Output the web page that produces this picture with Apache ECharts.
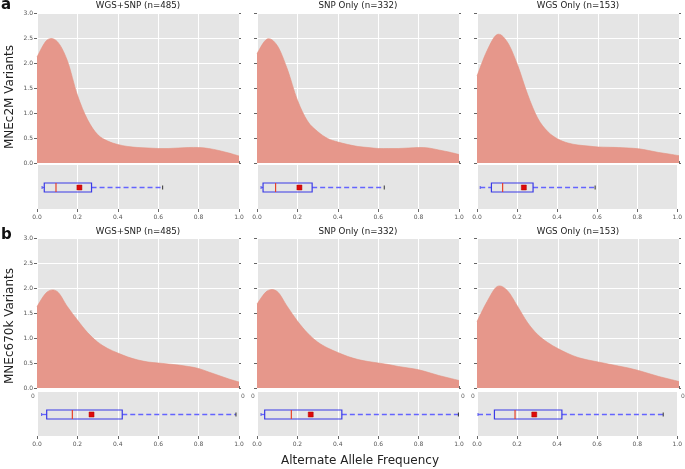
<!DOCTYPE html>
<html><head><meta charset="utf-8">
<script src="https://cdn.jsdelivr.net/npm/echarts@6/dist/echarts.min.js"></script>
<style>html,body{margin:0;padding:0;background:#fff}#c{width:685px;height:469px}</style>
</head><body><div id="c"></div>
<script>
// ---- data ----
const xPositions = [0, 0.05, 0.1, 0.15, 0.2, 0.25, 0.3, 0.35, 0.4, 0.45, 0.5, 0.55, 0.6, 0.65, 0.7, 0.75, 0.8, 0.85, 0.9, 0.95, 1.0];
const densA_WGSSNP = [2.12, 2.46, 2.43, 2.05, 1.36, 0.87, 0.57, 0.44, 0.37, 0.33, 0.31, 0.30, 0.29, 0.29, 0.30, 0.31, 0.31, 0.29, 0.25, 0.20, 0.14];
const densA_SNP    = [2.19, 2.48, 2.35, 1.88, 1.26, 0.84, 0.63, 0.49, 0.42, 0.37, 0.33, 0.31, 0.29, 0.29, 0.29, 0.30, 0.31, 0.30, 0.26, 0.22, 0.17];
const densA_WGS    = [1.74, 2.25, 2.57, 2.42, 1.97, 1.38, 0.90, 0.63, 0.48, 0.40, 0.36, 0.34, 0.32, 0.315, 0.31, 0.30, 0.285, 0.25, 0.21, 0.18, 0.146];
const densB_WGSSNP = [1.63, 1.92, 1.93, 1.63, 1.36, 1.11, 0.92, 0.79, 0.70, 0.62, 0.56, 0.52, 0.50, 0.48, 0.46, 0.43, 0.39, 0.32, 0.25, 0.18, 0.12];
const densB_SNP    = [1.68, 1.94, 1.93, 1.63, 1.34, 1.10, 0.92, 0.80, 0.71, 0.63, 0.57, 0.53, 0.50, 0.47, 0.43, 0.40, 0.365, 0.31, 0.25, 0.20, 0.15];
const densB_WGS    = [1.33, 1.73, 2.03, 1.95, 1.64, 1.31, 1.07, 0.91, 0.79, 0.69, 0.61, 0.56, 0.52, 0.48, 0.44, 0.40, 0.35, 0.29, 0.23, 0.18, 0.13];
// box stats: [min, q1, median, q3, max, mean]
const boxA_WGSSNP = [0.025, 0.036, 0.094, 0.270, 0.622, 0.21];
const boxA_SNP    = [0.020, 0.030, 0.092, 0.273, 0.630, 0.21];
const boxA_WGS    = [0.016, 0.072, 0.128, 0.280, 0.590, 0.234];
const boxB_WGSSNP = [0.023, 0.048, 0.175, 0.422, 0.985, 0.27];
const boxB_SNP    = [0.020, 0.038, 0.170, 0.420, 0.997, 0.266];
const boxB_WGS    = [0.005, 0.087, 0.190, 0.424, 0.930, 0.286];
const panelTitles = ['WGS+SNP (n=485)', 'SNP Only (n=332)', 'WGS Only (n=153)'];
const rowLetters = ['a', 'b'];
const rowNames = ['MNEc2M Variants', 'MNEc670k Variants'];
const xTickLabels = ['0.0', '0.2', '0.4', '0.6', '0.8', '1.0'];
const yTickLabels = ['0.0', '0.5', '1.0', '1.5', '2.0', '2.5', '3.0'];
const xAxisTitle = 'Alternate Allele Frequency';

const densities = [[densA_WGSSNP, densA_SNP, densA_WGS], [densB_WGSSNP, densB_SNP, densB_WGS]];
const boxes = [[boxA_WGSSNP, boxA_SNP, boxA_WGS], [boxB_WGSSNP, boxB_SNP, boxB_WGS]];

// ---- layout ----
const FONT = 'DejaVu Sans';
const colLeft = [37, 257, 477];
const colW = 202;
const densTop = [13, 238], densH = 150;
const boxTop = [165, 392], boxH = 44;
const GRIDBG = '#e5e5e5';
const TICKC = '#666';

const grids = [], xAxes = [], yAxes = [], series = [], graphics = [];

// smooth KDE-like area drawn through the axis scales (Catmull-Rom -> Bezier in pixel space)
function makeDensityRender(ys) {
  return function (params, api) {
    if (params.dataIndex !== 0) return null;
    const pts = xPositions.map((x, i) => api.coord([x, ys[i]]));
    const base = api.coord([0, 0])[1];
    const N = pts.length;
    let d = 'M' + pts[0][0] + ',' + base + ' L' + pts[0][0] + ',' + pts[0][1];
    let line = 'M' + pts[0][0] + ',' + pts[0][1];
    for (let i = 0; i < N - 1; i++) {
      const p0 = pts[Math.max(i - 1, 0)], p1 = pts[i], p2 = pts[i + 1], p3 = pts[Math.min(i + 2, N - 1)];
      const c1x = p1[0] + (p2[0] - p0[0]) / 6, c1y = p1[1] + (p2[1] - p0[1]) / 6;
      const c2x = p2[0] - (p3[0] - p1[0]) / 6, c2y = p2[1] - (p3[1] - p1[1]) / 6;
      const seg = ' C' + c1x + ',' + c1y + ' ' + c2x + ',' + c2y + ' ' + p2[0] + ',' + p2[1];
      d += seg; line += seg;
    }
    d += ' L' + pts[N - 1][0] + ',' + base + ' Z';
    return {
      type: 'group',
      children: [
        { type: 'path', shape: { pathData: d }, style: { fill: '#e6978b', stroke: null } },
        { type: 'path', shape: { pathData: line }, style: { fill: null, stroke: '#e3907f', lineWidth: 0.6 } }
      ]
    };
  };
}

function renderBox(params, api) {
  const y = Math.round(api.coord([0, 0.5])[1]) + 0.5;
  const px = i => api.coord([api.value(i), 0.5])[0];
  const xMin = px(0), xQ1 = px(1), xMed = px(2), xQ3 = px(3), xMax = px(4), xMean = px(5);
  const h = 4.5;
  const dash = { stroke: '#6464ff', lineWidth: 1.3, lineDash: [5, 3] };
  return {
    type: 'group',
    children: [
      { type: 'line', shape: { x1: xMin, y1: y, x2: xQ1, y2: y }, style: dash },
      { type: 'line', shape: { x1: xQ3, y1: y, x2: xMax, y2: y }, style: dash },
      { type: 'rect', shape: { x: xQ1, y: y - h, width: xQ3 - xQ1, height: 2 * h }, style: { fill: 'transparent', stroke: '#3a3ae6', lineWidth: 1.2 } },
      { type: 'line', shape: { x1: xMed, y1: y - h, x2: xMed, y2: y + h }, style: { stroke: '#e8402a', lineWidth: 1.2 } },
      { type: 'rect', shape: { x: xMean - 2.5, y: y - 2.5, width: 5, height: 5 }, style: { fill: '#dd0a0a', stroke: '#b00000', lineWidth: 0.5 } },
      { type: 'line', shape: { x1: xMin, y1: y - 1.5, x2: xMin, y2: y + 1.5 }, style: { stroke: '#5858e8', lineWidth: 1 } },
      { type: 'line', shape: { x1: xMax, y1: y - 2, x2: xMax, y2: y + 2 }, style: { stroke: '#333', lineWidth: 1 } }
    ]
  };
}

for (let r = 0; r < 2; r++) {
  for (let c = 0; c < 3; c++) {
    // density grid
    const gD = grids.length;
    grids.push({ left: colLeft[c], top: densTop[r], width: colW, height: densH, show: true, backgroundColor: GRIDBG, borderWidth: 0 });
    const xD = xAxes.length;
    xAxes.push({
      gridIndex: gD, type: 'value', min: 0, max: 1, interval: 0.2, position: 'top',
      axisLine: { show: false }, axisTick: { show: true, length: 2, lineStyle: { color: TICKC } },
      axisLabel: { show: false }, splitLine: { show: true, lineStyle: { color: '#fff', width: 1 } }
    });
    const yD = yAxes.length;
    yAxes.push({
      gridIndex: gD, type: 'value', min: 0, max: 3, interval: 0.5, position: 'left',
      axisLine: { show: false }, axisTick: { show: true, length: 3, lineStyle: { color: TICKC } },
      axisLabel: { show: c === 0, fontSize: 6, color: '#555', fontFamily: FONT, margin: 4,
        formatter: v => yTickLabels[Math.round(v / 0.5)] },
      splitLine: { show: true, lineStyle: { color: '#fff', width: 1 } }
    });
    yAxes.push({
      gridIndex: gD, type: 'value', min: 0, max: 3, interval: 0.5, position: 'right',
      axisLine: { show: false }, axisTick: { show: true, length: 2, lineStyle: { color: TICKC } },
      axisLabel: { show: false }, splitLine: { show: false }
    });
    const ys = densities[r][c];
    series.push({
      type: 'custom', xAxisIndex: xD, yAxisIndex: yD,
      renderItem: makeDensityRender(ys),
      encode: { x: 0, y: 1 },
      data: xPositions.map((x, i) => [x, ys[i]]),
      silent: true, animation: false, z: 2
    });

    // box grid
    const gB = grids.length;
    grids.push({ left: colLeft[c], top: boxTop[r], width: colW, height: boxH, show: true, backgroundColor: GRIDBG, borderWidth: 0 });
    const xB = xAxes.length;
    xAxes.push({
      gridIndex: gB, type: 'value', min: 0, max: 1, interval: 0.2, position: 'bottom',
      axisLine: { show: false }, axisTick: { show: true, length: 3, lineStyle: { color: TICKC } },
      axisLabel: { show: true, fontSize: 6, color: '#555', fontFamily: FONT, margin: 5,
        formatter: v => xTickLabels[Math.round(v / 0.2)] },
      splitLine: { show: true, lineStyle: { color: '#fff', width: 1 } }
    });
    const yB = yAxes.length;
    yAxes.push({ gridIndex: gB, type: 'value', min: 0, max: 1, show: false });
    const b = boxes[r][c];
    series.push({
      type: 'custom', xAxisIndex: xB, yAxisIndex: yB, renderItem: renderBox,
      dimensions: ['min', 'q1', 'med', 'q3', 'max', 'mean', 'y'],
      encode: { x: [0, 1, 2, 3, 4, 5], y: 6 },
      data: [[b[0], b[1], b[2], b[3], b[4], b[5], 0.5]],
      silent: true, animation: false, z: 3
    });

    // panel title
    graphics.push({ type: 'text', x: colLeft[c] + colW / 2, y: r === 0 ? 6 : 231.5,
      style: { text: panelTitles[c], font: '8.7px "' + FONT + '"', fill: '#222', textAlign: 'center', textVerticalAlign: 'middle' } });

    // clipped tick remnants in row b
    if (r === 1) {
      graphics.push({ type: 'text', x: colLeft[c] - 4, y: 396,
        style: { text: '0', font: '6px "' + FONT + '"', fill: '#666', textAlign: 'center', textVerticalAlign: 'middle' } });
      graphics.push({ type: 'text', x: colLeft[c] + colW + 4, y: 396,
        style: { text: '0', font: '6px "' + FONT + '"', fill: '#666', textAlign: 'center', textVerticalAlign: 'middle' } });
    }
  }
  // row letter
  graphics.push({ type: 'text', x: 1, y: r === 0 ? 5 : 235,
    style: { text: rowLetters[r], font: 'bold 15px "' + FONT + '"', fill: '#111', textAlign: 'left', textVerticalAlign: 'middle' } });
  // row y-axis title
  graphics.push({ type: 'text', x: 10, y: r === 0 ? 97 : 326, rotation: Math.PI / 2,
    style: { text: rowNames[r], font: '12px "' + FONT + '"', fill: '#222', textAlign: 'center', textVerticalAlign: 'middle' } });
}
graphics.push({ type: 'text', x: 360, y: 461,
  style: { text: xAxisTitle, font: '12px "' + FONT + '"', fill: '#222', textAlign: 'center', textVerticalAlign: 'middle' } });

const chart = echarts.init(document.getElementById('c'), null, { renderer: 'canvas' });
chart.setOption({
  animation: false,
  backgroundColor: '#fff',
  grid: grids,
  xAxis: xAxes,
  yAxis: yAxes,
  series: series,
  graphic: graphics
});
</script>
</body></html>
